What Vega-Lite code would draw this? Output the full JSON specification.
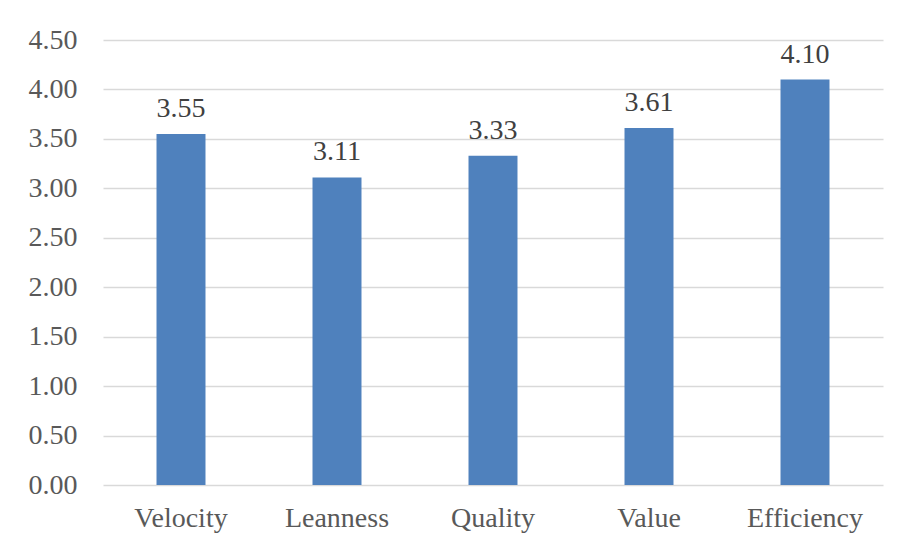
{
  "$schema": "https://vega.github.io/schema/vega-lite/v6.json",
  "width": 780,
  "height": 445,
  "autosize": {"type": "none"},
  "padding": {"left": 103, "top": 40, "right": 14, "bottom": 60},
  "background": "white",
  "data": {
    "values": [
      {"dimension": "Velocity", "score": 3.55},
      {"dimension": "Leanness", "score": 3.11},
      {"dimension": "Quality", "score": 3.33},
      {"dimension": "Value", "score": 3.61},
      {"dimension": "Efficiency", "score": 4.10}
    ]
  },
  "encoding": {
    "x": {
      "field": "dimension",
      "type": "nominal",
      "sort": null,
      "title": null,
      "scale": {"paddingInner": 0.686, "paddingOuter": 0.343},
      "axis": {
        "labelAngle": 0,
        "labelFont": "Liberation Serif",
        "labelFontSize": 28,
        "labelColor": "#595959",
        "labelPadding": 19,
        "ticks": false,
        "domain": false,
        "grid": false
      }
    },
    "y": {
      "field": "score",
      "type": "quantitative",
      "title": null,
      "scale": {"domain": [0, 4.5], "nice": false},
      "axis": {
        "values": [0, 0.5, 1, 1.5, 2, 2.5, 3, 3.5, 4, 4.5],
        "format": ".2f",
        "labelFont": "Liberation Serif",
        "labelFontSize": 28,
        "labelColor": "#595959",
        "labelPadding": 26,
        "ticks": false,
        "domain": false,
        "grid": true,
        "gridColor": "#d9d9d9",
        "gridWidth": 1.3
      }
    }
  },
  "layer": [
    {"mark": {"type": "bar", "color": "#4f81bd"}},
    {
      "mark": {
        "type": "text",
        "font": "Liberation Serif",
        "fontSize": 28,
        "color": "#404040",
        "baseline": "alphabetic",
        "dy": -17
      },
      "encoding": {"text": {"field": "score", "type": "quantitative", "format": ".2f"}}
    }
  ],
  "config": {"view": {"stroke": null}}
}
